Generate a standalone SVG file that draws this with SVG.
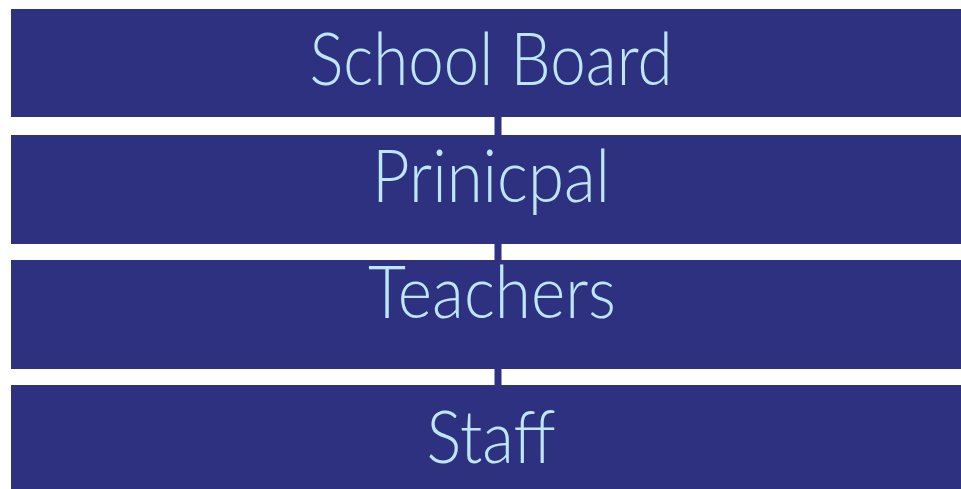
<svg xmlns="http://www.w3.org/2000/svg" width="961" height="489" viewBox="0 0 961 489">
<style>
.box{fill:#2E3080}
.lbl{fill:#BDE6F8;font-family:"Lato","Open Sans",sans-serif;font-weight:300;font-size:72px;text-anchor:middle}
.conn{stroke:#2E3080;stroke-width:7;fill:none}
</style>
<rect width="961" height="489" fill="#FFFFFF"/>
<g id="connectors">
<line class="conn" x1="498" y1="117" x2="498" y2="135"/>
<line class="conn" x1="498" y1="244" x2="498" y2="260"/>
<line class="conn" x1="498" y1="369" x2="498" y2="385"/>
</g>
<g id="school-board"><rect class="box" x="11" y="9" width="950" height="108"/><text class="lbl" x="491" y="85" textLength="363" lengthAdjust="spacingAndGlyphs">School Board</text></g>
<g id="principal"><rect class="box" x="11" y="135" width="950" height="109"/><text class="lbl" x="491" y="202" textLength="238" lengthAdjust="spacingAndGlyphs">Prinicpal</text></g>
<g id="teachers"><rect class="box" x="11" y="260" width="950" height="109"/><text class="lbl" x="492" y="318" textLength="248" lengthAdjust="spacingAndGlyphs">Teachers</text></g>
<g id="staff"><rect class="box" x="11" y="385" width="950" height="104"/><text class="lbl" x="491" y="463" textLength="129" lengthAdjust="spacingAndGlyphs">Staff</text></g>
</svg>
